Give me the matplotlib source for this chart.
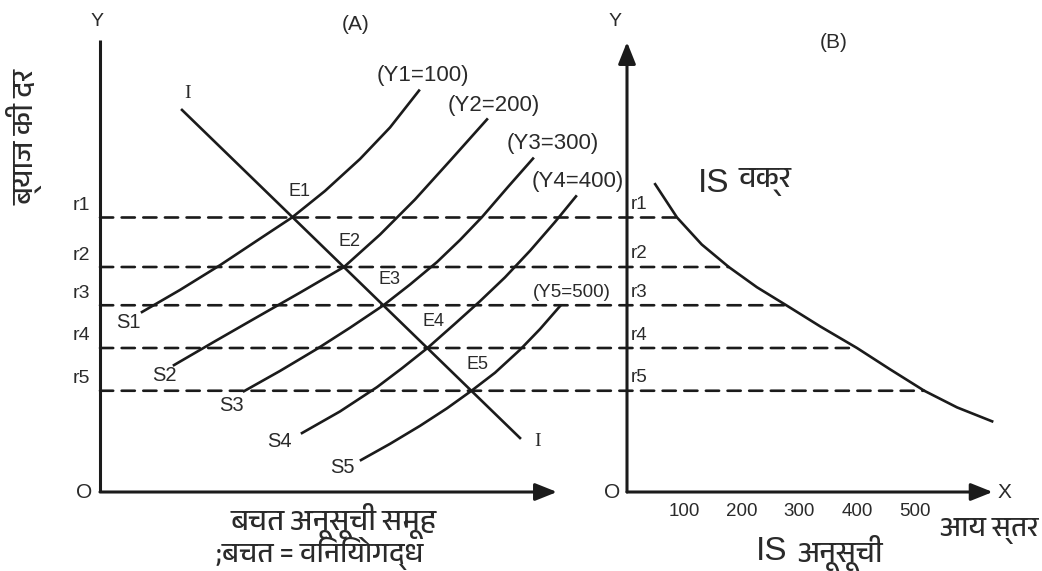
import matplotlib
matplotlib.use("Agg")
import matplotlib.pyplot as plt
from matplotlib import font_manager
from matplotlib.ft2font import FT2Font
from matplotlib.patches import ConnectionPatch

# ---------------------------------------------------------------- data
# interest-rate levels shared by both panels
rate_labels = ["r1", "r2", "r3", "r4", "r5"]
rates = [6.1, 5.0, 4.15, 3.2, 2.25]

# income levels belonging to the saving schedules
income_levels = [100, 200, 300, 400, 500]
saving_names = ["S1", "S2", "S3", "S4", "S5"]
equil_names = ["E1", "E2", "E3", "E4", "E5"]

# investment schedule I (panel A)
invest_x = [1.64, 8.40]
invest_y = [8.49, 1.20]

# saving schedules (panel A), one per income level
s1_x = [0.84, 1.60, 2.40, 3.20, 3.84, 4.50, 5.20, 5.80, 6.38]
s1_y = [4.00, 4.49, 5.04, 5.63, 6.10, 6.69, 7.40, 8.10, 8.92]
s2_x = [1.48, 2.30, 3.10, 4.00, 4.88, 5.60, 6.30, 7.00, 7.74]
s2_y = [2.82, 3.35, 3.86, 4.43, 5.00, 5.72, 6.50, 7.36, 8.28]
s3_x = [2.88, 3.60, 4.34, 5.00, 5.67, 6.20, 6.74, 7.20, 7.64, 8.16, 8.66]
s3_y = [2.24, 2.69, 3.18, 3.65, 4.15, 4.61, 5.11, 5.60, 6.11, 6.78, 7.41]
s4_x = [4.04, 4.80, 5.54, 6.04, 6.55, 7.10, 7.60, 8.10, 8.60, 9.10, 9.52]
s4_y = [1.31, 1.79, 2.33, 2.75, 3.20, 3.74, 4.24, 4.77, 5.36, 6.00, 6.57]
s5_x = [5.22, 5.80, 6.40, 6.94, 7.43, 7.90, 8.40, 8.80, 9.20]
s5_y = [0.71, 1.07, 1.47, 1.86, 2.25, 2.65, 3.16, 3.62, 4.13]

# saving = investment points
equil_x = [3.86, 4.88, 5.67, 6.55, 7.43]

# IS schedule (panel B): income vs interest rate
is_income = [49, 87, 130, 177, 226, 277, 336, 400, 457, 517, 574, 635]
is_rate = [6.84, 6.10, 5.50, 5.00, 4.55, 4.15, 3.68, 3.20, 2.73, 2.25, 1.88, 1.57]

# ---------------------------------------------------------------- fonts
def family_with(ch, prefer="Devanagari"):
    found = []
    for f in font_manager.fontManager.ttflist:
        try:
            if ord(ch) in FT2Font(f.fname).get_charmap():
                found.append(f.name)
        except Exception:
            pass
    found.sort(key=lambda n: (prefer not in n, n))
    return found[0] if found else None

LATIN = "Liberation Sans"
deva = family_with("\u0915")
HINDI = [deva, LATIN, "DejaVu Sans"] if deva else [LATIN, "DejaVu Sans"]
plt.rcParams["font.family"] = [LATIN, "DejaVu Sans"]

INK = "#1b1b1b"
TXT = "#2a2a2a"

W, H = 1042, 571
fig = plt.figure(figsize=(W / 100, H / 100), dpi=100)
fig.patch.set_facecolor("white")


def fx(x, y):
    """figure-pixel position (from top-left) -> figure fraction"""
    return x / W, 1 - y / H


x0_px, y0_px, top_px = 100, 492, 40
yscale = 45.0
ytop = (y0_px - top_px) / yscale

axA = fig.add_axes([x0_px / W, (H - y0_px) / H, (627 - x0_px) / W, (y0_px - top_px) / H])
axA.set_xlim(0, (627 - x0_px) / 50.0)
axA.set_ylim(0, ytop)
axB = fig.add_axes([627 / W, (H - y0_px) / H, (W - 627) / W, (y0_px - top_px) / H])
axB.set_xlim(0, (W - 627) / 0.575)
axB.set_ylim(0, ytop)
for ax in (axA, axB):
    ax.set_axis_off()

AX_LW = 2.2
LW = 1.9
arrow_kw = dict(arrowstyle="-|>,head_length=0.55,head_width=0.22", lw=AX_LW,
                color=INK, mutation_scale=24, shrinkA=0, shrinkB=0)

# ---- panel A axes
axA.plot([0, 0], [0, ytop], color=INK, lw=AX_LW, solid_capstyle="butt", clip_on=False)
axA.annotate("", xy=(9.14, 0), xytext=(0, 0), arrowprops=arrow_kw, annotation_clip=False)

# ---- panel B axes
axB.annotate("", xy=(0, 10.0), xytext=(0, 0), arrowprops=arrow_kw, annotation_clip=False)
axB.annotate("", xy=(636, 0), xytext=(0, 0), arrowprops=arrow_kw, annotation_clip=False)

# ---- dashed interest-rate guides running from panel A to the IS curve
is_at_rate = dict(zip(is_rate, is_income))
for r in rates:
    con = ConnectionPatch(xyA=(0, r), coordsA=axA.transData,
                          xyB=(is_at_rate[r], r), coordsB=axB.transData,
                          color=INK, lw=1.9, linestyle=(0, (5.0, 3.2)),
                          zorder=1)
    fig.add_artist(con)

# ---- investment and saving schedules
axA.plot(invest_x, invest_y, color=INK, lw=LW, clip_on=False, zorder=3)
savings = [(s1_x, s1_y), (s2_x, s2_y), (s3_x, s3_y), (s4_x, s4_y), (s5_x, s5_y)]
for sx, sy in savings:
    axA.plot(sx, sy, color=INK, lw=LW, clip_on=False, zorder=3,
             solid_joinstyle="round")

# ---- IS curve
axB.plot(is_income, is_rate, color=INK, lw=LW, clip_on=False, zorder=3,
         solid_joinstyle="round")

# ---------------------------------------------------------------- labels
tk = dict(color=TXT, textcoords="offset pixels", annotation_clip=False)

# saving curve names at the lower ends, income labels at the upper ends
s_off = [(-14, -11), (-10, -10), (-13, -14), (-23, -8), (-19, -7)]
top_off = [(4, 15), (7, 14), (20, 15), (2, 15), (12, 14)]
top_size = [16, 16, 16, 16, 13.5]
for (sx, sy), name, inc, so, to, ts in zip(savings, saving_names, income_levels,
                                            s_off, top_off, top_size):
    axA.annotate(name, xy=(sx[0], sy[0]), xytext=so, ha="center", va="center",
                 fontsize=14.5, **tk)
    axA.annotate(f"(Y{name[1]}={inc})", xy=(sx[-1], sy[-1]), xytext=to,
                 ha="center", va="center", fontsize=ts, **tk)

for ex, r, name in zip(equil_x, rates, equil_names):
    axA.annotate(name, xy=(ex, r), xytext=(6, 26), ha="center", va="center",
                 fontsize=13, **tk)

# I labels at both ends of the investment line
axA.annotate("I", xy=(invest_x[0], invest_y[0]), xytext=(6, 16), ha="center",
             va="center", fontsize=14, family="Liberation Serif", **tk)
axA.annotate("I", xy=(invest_x[1], invest_y[1]), xytext=(18, -3), ha="center",
             va="center", fontsize=14, family="Liberation Serif", **tk)

# rate labels on both vertical axes
for r, lab in zip(rates, rate_labels):
    axA.annotate(lab, xy=(0, r), xytext=(-10, 12), ha="right", va="center",
                 fontsize=14, **tk)
    axB.annotate(lab, xy=(0, r), xytext=(4, 13), ha="left", va="center",
                 fontsize=13.5, **tk)

# income ticks on panel B
for inc in income_levels:
    axB.annotate(str(inc), xy=(inc, 0), xytext=(0, -19), ha="center", va="center",
                 fontsize=13.5, **tk)

# axis letters and panel titles
fig.text(*fx(97, 22), "Y", ha="center", va="center", fontsize=14, color=TXT)
fig.text(*fx(84, 493), "O", ha="center", va="center", fontsize=15, color=TXT)
fig.text(*fx(356, 25), "(A)", ha="center", va="center", fontsize=15, color=TXT)
fig.text(*fx(615, 22), "Y", ha="center", va="center", fontsize=14, color=TXT)
fig.text(*fx(612, 493), "O", ha="center", va="center", fontsize=15, color=TXT)
fig.text(*fx(1004, 493), "X", ha="center", va="center", fontsize=15, color=TXT)
fig.text(*fx(834, 42), "(B)", ha="center", va="center", fontsize=15, color=TXT)

# Hindi captions
fig.text(*fx(25, 137), "ब्याज की दर", rotation=90, ha="center", va="center",
         fontsize=21, color=TXT, family=HINDI)
fig.text(*fx(334, 521), "बचत अनूसूची समूह", ha="center", va="center",
         fontsize=21, color=TXT, family=HINDI)
fig.text(*fx(320, 554), ";बचत = विनियोगद्ध", ha="center", va="center",
         fontsize=20, color=TXT, family=HINDI)
fig.text(*fx(714, 183), "IS", ha="center", va="center", fontsize=24, color=TXT)
fig.text(*fx(765, 182), "वक्र", ha="center", va="center", fontsize=21,
         color=TXT, family=HINDI)
fig.text(*fx(772, 551), "IS", ha="center", va="center", fontsize=24, color=TXT)
fig.text(*fx(840, 553), "अनूसूची", ha="center", va="center", fontsize=21,
         color=TXT, family=HINDI)
fig.text(*fx(989, 531), "आय स्तर", ha="center", va="center", fontsize=20,
         color=TXT, family=HINDI)

fig.savefig("out.png", dpi=100, facecolor="white")
